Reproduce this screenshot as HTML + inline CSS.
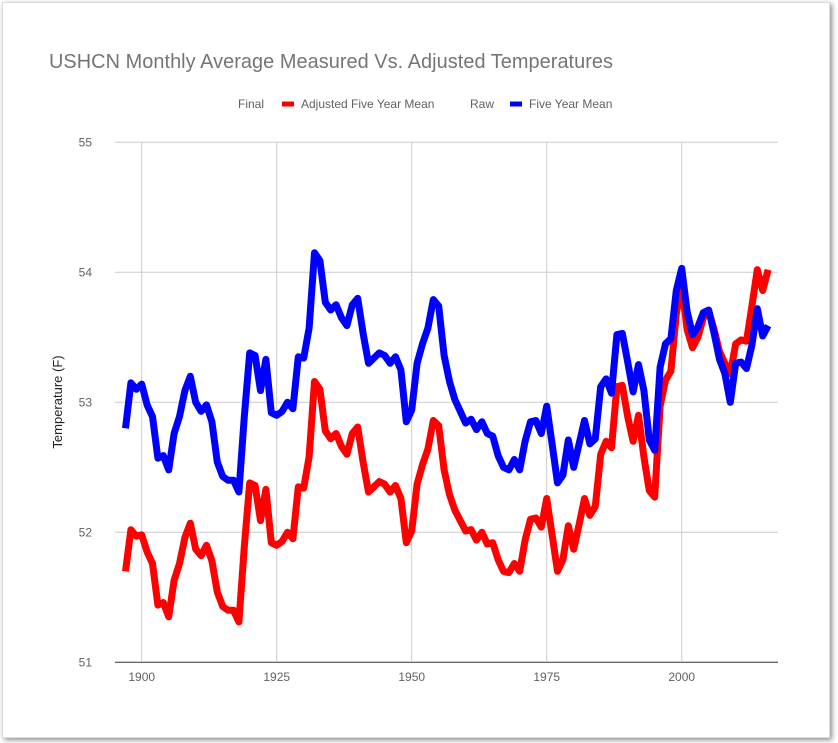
<!DOCTYPE html>
<html><head><meta charset="utf-8"><style>
body{margin:0;background:#fff;font-family:"Liberation Sans",Arial,sans-serif}
#card{position:absolute;left:2px;top:2px;width:826px;height:734px;background:#fff;box-shadow:2px 2px 5px rgba(0,0,0,.45);border:1px solid #ddd}
svg{position:absolute;left:0;top:0}
</style></head><body>
<div id="card"></div>
<svg id="chart" width="838" height="743">
<text x="49" y="68" font-size="19.9" fill="#757575" textLength="564">USHCN Monthly Average Measured Vs. Adjusted Temperatures</text>
<g font-size="12" fill="#616161">
<text x="238" y="108">Final</text>
<line x1="282" y1="104" x2="294" y2="104" stroke="#f00" stroke-width="5"/>
<text x="301" y="108">Adjusted Five Year Mean</text>
<text x="470" y="108">Raw</text>
<line x1="510" y1="104" x2="522" y2="104" stroke="#00f" stroke-width="5"/>
<text x="529" y="108">Five Year Mean</text>
</g>
<text transform="translate(62,402) rotate(-90)" text-anchor="middle" font-size="13" fill="#222">Temperature (F)</text>
<g id="grid"></g><g id="series"></g>
</svg>
<script>
const years=[];for(let y=1897;y<=2016;y++)years.push(y);
const rawValues=[52.80,53.15,53.10,53.14,52.98,52.89,52.57,52.59,52.48,52.76,52.89,53.09,53.20,53.00,52.93,52.98,52.85,52.54,52.43,52.40,52.40,52.31,52.89,53.38,53.36,53.09,53.33,52.92,52.90,52.93,53.00,52.95,53.35,53.34,53.57,54.15,54.09,53.77,53.71,53.75,53.65,53.59,53.75,53.80,53.53,53.30,53.34,53.38,53.36,53.30,53.35,53.25,52.85,52.94,53.30,53.45,53.57,53.79,53.74,53.36,53.16,53.02,52.93,52.84,52.87,52.79,52.85,52.76,52.74,52.59,52.50,52.48,52.56,52.48,52.70,52.85,52.86,52.76,52.97,52.68,52.38,52.44,52.71,52.50,52.68,52.86,52.68,52.72,53.12,53.18,53.07,53.52,53.53,53.31,53.08,53.29,53.09,52.71,52.63,53.27,53.45,53.49,53.86,54.03,53.70,53.52,53.58,53.69,53.71,53.53,53.33,53.22,53.00,53.30,53.31,53.26,53.44,53.72,53.51,53.59];
const adjustedValues=[51.70,52.02,51.97,51.98,51.85,51.76,51.44,51.46,51.35,51.63,51.76,51.96,52.07,51.87,51.82,51.90,51.78,51.54,51.43,51.40,51.40,51.31,51.89,52.38,52.36,52.09,52.33,51.92,51.90,51.93,52.00,51.95,52.35,52.34,52.58,53.16,53.10,52.78,52.72,52.76,52.66,52.60,52.76,52.81,52.54,52.31,52.35,52.39,52.37,52.31,52.36,52.26,51.92,52.01,52.37,52.52,52.64,52.86,52.82,52.48,52.29,52.17,52.09,52.01,52.02,51.94,52.00,51.91,51.92,51.79,51.70,51.69,51.76,51.70,51.94,52.10,52.11,52.04,52.26,51.98,51.70,51.79,52.05,51.87,52.06,52.26,52.13,52.20,52.60,52.70,52.65,53.12,53.13,52.89,52.70,52.90,52.58,52.32,52.27,52.97,53.17,53.24,53.68,53.90,53.56,53.42,53.50,53.65,53.70,53.56,53.39,53.30,53.22,53.45,53.48,53.47,53.74,54.02,53.86,54.02];
const yTicks=[51,52,53,54,55];
const xTicks=[1900,1925,1950,1975,2000];
const X=y=>141.7+(y-1900)*5.4;
const Y=v=>662.3-(v-51)*130;
const NS="http://www.w3.org/2000/svg";
const grid=document.getElementById('grid'),ser=document.getElementById('series');
function mk(tag,attrs,parent){const e=document.createElementNS(NS,tag);for(const k in attrs)e.setAttribute(k,attrs[k]);parent.appendChild(e);return e;}
yTicks.forEach(t=>{
 const l=mk('line',{x1:115,x2:778,y1:Y(t),y2:Y(t),stroke:t===51?'#333':'#ccc','stroke-width':1},grid);
 
 
 const tx=mk('text',{x:92,y:Y(t)+4,'text-anchor':'end','font-size':12,fill:'#616161'},grid);tx.textContent=t;
 
 
});
xTicks.forEach(t=>{
 const l=mk('line',{x1:X(t),x2:X(t),y1:142,y2:662,stroke:'#ccc','stroke-width':1},grid);
 
 
 const tx=mk('text',{x:X(t),y:681,'text-anchor':'middle','font-size':12,fill:'#616161'},grid);tx.textContent=t;
 
 
});
function line(vals,color,name){
 const p=mk('polyline',{points:vals.map((v,i)=>X(years[i])+','+Y(v)).join(' '),fill:'none',stroke:color,'stroke-width':7,'stroke-linejoin':'round'},ser);
 
 
}
line(adjustedValues,'#f00','adjusted-five-year-mean-line');
line(rawValues,'#00f','raw-five-year-mean-line');
</script>
</body></html>
